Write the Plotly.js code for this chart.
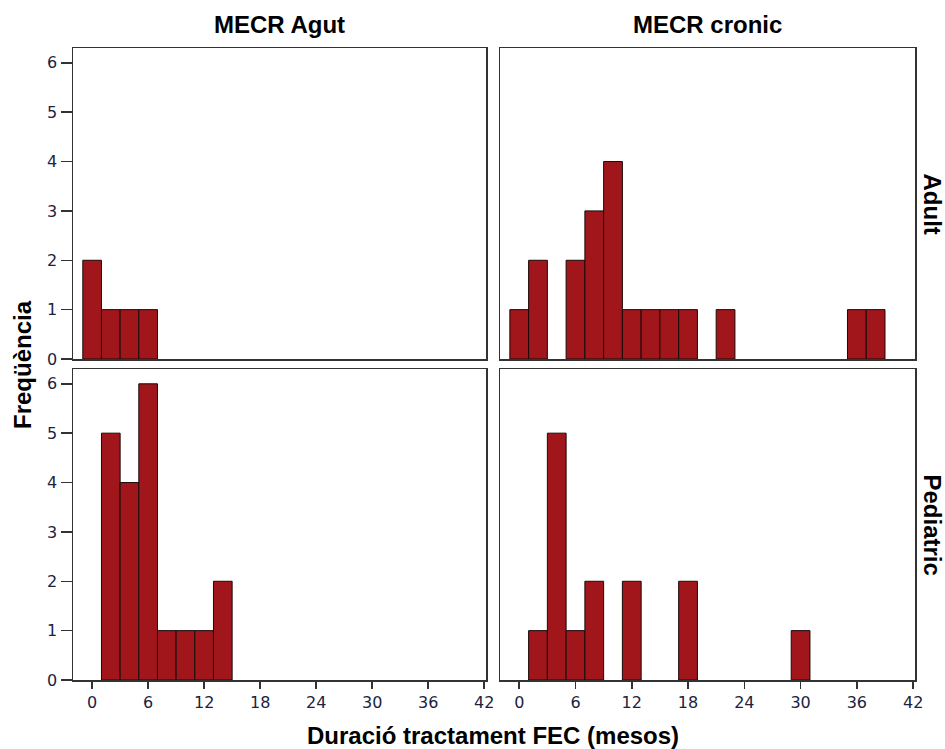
<!DOCTYPE html>
<html><head><meta charset="utf-8">
<script src="https://cdn.plot.ly/plotly-3.0.1.min.js"></script>
<style>body{margin:0;background:#fff}#chart{width:945px;height:749px}</style>
</head><body><div id="chart"></div>
<script>
// Bin centres (months), bin width 2
const binWidth = 2;
const agutAdultX = [0, 2, 4, 6];
const agutAdultY = [2, 1, 1, 1];
const cronicAdultX = [0, 2, 6, 8, 10, 12, 14, 16, 18, 22, 36, 38];
const cronicAdultY = [1, 2, 2, 3, 4, 1, 1, 1, 1, 1, 1, 1];
const agutPedX = [2, 4, 6, 8, 10, 12, 14];
const agutPedY = [5, 4, 6, 1, 1, 1, 2];
const cronicPedX = [2, 4, 6, 8, 12, 18, 30];
const cronicPedY = [1, 5, 1, 2, 2, 2, 1];
const colTitles = ["MECR Agut", "MECR cronic"];
const rowTitles = ["Adult", "Pediatric"];
const xTicks = [0, 6, 12, 18, 24, 30, 36, 42];
const yTicks = [0, 1, 2, 3, 4, 5, 6];

const W = 945, H = 749;
const barStyle = {color: '#a0161b', line: {color: '#1a0a0a', width: 1}};
function bar(x, y, xa, ya) {
  return {type: 'bar', x: x, y: y, width: x.map(() => binWidth), xaxis: xa, yaxis: ya,
          marker: barStyle, showlegend: false, hoverinfo: 'x+y'};
}
const data = [
  bar(agutAdultX, agutAdultY, 'x', 'y'),
  bar(cronicAdultX, cronicAdultY, 'x2', 'y2'),
  bar(agutPedX, agutPedY, 'x3', 'y3'),
  bar(cronicPedX, cronicPedY, 'x4', 'y4')
];
const tickFont = {family: 'DejaVu Sans', size: 16, color: '#1c2340'};
const colDom = [[73 / W, 486 / W], [500 / W, 915 / W]];
const rowDom = [[1 - 359 / H, 1 - 48 / H], [1 - 680 / H, 1 - 369 / H]];
function xax(dom, anchor, showTicks) {
  return {domain: dom, anchor: anchor, range: [-2.05, 42.2], tickvals: xTicks,
          ticktext: xTicks.map(String), showticklabels: showTicks, ticks: showTicks ? 'outside' : '',
          ticklen: 7, tickwidth: 1.5, tickcolor: '#333', showgrid: false, zeroline: false,
          showline: true, mirror: true, linecolor: '#333', linewidth: 1.5, tickfont: tickFont,
          fixedrange: true};
}
function yax(dom, anchor, showTicks) {
  return {domain: dom, anchor: anchor, range: [0, 6.3], tickvals: yTicks,
          showticklabels: showTicks, ticks: showTicks ? 'outside' : '', ticklen: 11, tickwidth: 1.5,
          tickcolor: '#333', showgrid: false, zeroline: false, showline: true, mirror: true,
          linecolor: '#333', linewidth: 1.5, tickfont: tickFont, fixedrange: true};
}
const titleFont = {family: 'Liberation Sans', size: 24, color: '#000', weight: 'bold'};
const ann = [];
colTitles.forEach((t, i) => ann.push({text: '<b>' + t + '</b>', xref: 'paper', yref: 'paper',
  x: (colDom[i][0] + colDom[i][1]) / 2, y: 1 - 25 / H, showarrow: false, font: titleFont,
  xanchor: 'center', yanchor: 'middle'}));
rowTitles.forEach((t, i) => ann.push({text: '<b>' + t + '</b>', xref: 'paper', yref: 'paper',
  x: 932 / W, y: (rowDom[i][0] + rowDom[i][1]) / 2, showarrow: false, font: titleFont,
  textangle: 90, xanchor: 'center', yanchor: 'middle'}));
ann.push({text: '<b>Freqüència</b>', xref: 'paper', yref: 'paper', x: 22 / W, y: 1 - 365 / H,
  showarrow: false, font: titleFont, textangle: -90, xanchor: 'center', yanchor: 'middle'});
ann.push({text: '<b>Duració tractament FEC (mesos)</b>', xref: 'paper', yref: 'paper',
  x: 493 / W, y: 1 - 735 / H, showarrow: false, font: titleFont, xanchor: 'center', yanchor: 'middle'});

const layout = {
  width: W, height: H, margin: {l: 0, r: 0, t: 0, b: 0}, paper_bgcolor: '#fff', plot_bgcolor: '#fff',
  bargap: 0, showlegend: false,
  xaxis: xax(colDom[0], 'y', false), yaxis: yax(rowDom[0], 'x', true),
  xaxis2: xax(colDom[1], 'y2', false), yaxis2: yax(rowDom[0], 'x2', false),
  xaxis3: xax(colDom[0], 'y3', true), yaxis3: yax(rowDom[1], 'x3', true),
  xaxis4: xax(colDom[1], 'y4', true), yaxis4: yax(rowDom[1], 'x4', false),
  annotations: ann
};
Plotly.newPlot('chart', data, layout, {displayModeBar: false, staticPlot: true});
</script></body></html>
